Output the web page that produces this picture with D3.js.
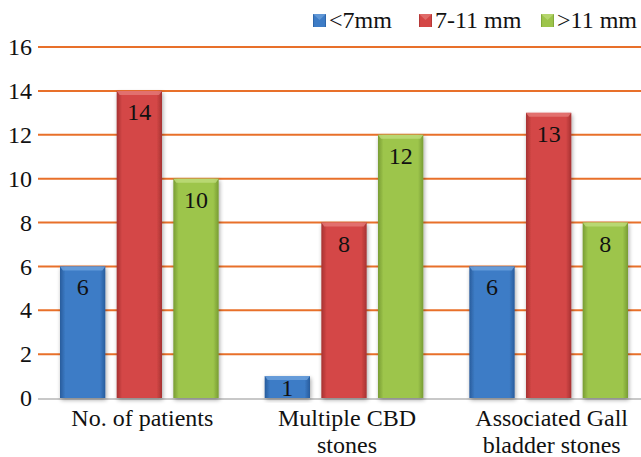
<!DOCTYPE html>
<html><head><meta charset="utf-8">
<script src="https://cdn.jsdelivr.net/npm/d3@7"></script>
<style>body{margin:0;background:#fff}svg{display:block}</style>
</head><body>
<script>
const categories = [["No. of patients"], ["Multiple CBD", "stones"], ["Associated Gall", "bladder stones"]];
const seriesNames = ["<7mm", "7-11 mm", ">11 mm"];
const lt7 = [6, 1, 6];
const mid = [14, 8, 13];
const gt11 = [10, 12, 8];
const yTicks = [0, 2, 4, 6, 8, 10, 12, 14, 16];

const FONT = "'Liberation Serif'";
const FS = 24;
const W = 641, H = 457;
const svg = d3.select("body").append("svg").attr("width", W).attr("height", H);
const defs = svg.append("defs");
const colors = [
  {edge:"#285c9c", mid:"#3d7cc6", top:"#6fa3dd"},
  {edge:"#a63232", mid:"#d44746", top:"#e57a78"},
  {edge:"#789c34", mid:"#9dc54b", top:"#bfdc7c"}
];
colors.forEach((c,i)=>{
  const g = defs.append("linearGradient").attr("id","g"+i).attr("x1","0").attr("x2","1").attr("y1","0").attr("y2","0");
  g.append("stop").attr("offset","0").attr("stop-color",c.edge);
  g.append("stop").attr("offset","0.12").attr("stop-color",c.mid);
  g.append("stop").attr("offset","0.88").attr("stop-color",c.mid);
  g.append("stop").attr("offset","1").attr("stop-color",c.edge);
});
const f = defs.append("filter").attr("id","sh").attr("x","-20%").attr("y","-20%").attr("width","140%").attr("height","140%");
f.append("feGaussianBlur").attr("in","SourceAlpha").attr("stdDeviation","2");
f.append("feOffset").attr("dx","1").attr("dy","2").attr("result","b");
f.append("feComponentTransfer").append("feFuncA").attr("type","linear").attr("slope","0.35");
const fm = f.append("feMerge"); fm.append("feMergeNode"); fm.append("feMergeNode").attr("in","SourceGraphic");

const y = d3.scaleLinear().domain([0,16]).range([398,47]);
const x0 = d3.scaleBand().domain(d3.range(categories.length)).range([37, 651]).padding(0);
const x1 = d3.scaleBand().domain(d3.range(3)).range([23, x0.bandwidth()-23]).paddingInner(0.2);

function txt(sel){ return sel.style("font-family", FONT).attr("fill","#111").attr("font-size",FS); }

// gridlines
svg.append("g").selectAll("line").data(yTicks.filter(t=>t>0)).join("line")
  .attr("x1",38).attr("x2",W).attr("y1",d=>y(d)).attr("y2",d=>y(d))
  .attr("stroke","#e8702a").attr("stroke-width",2);
// baseline
svg.append("line").attr("x1",38).attr("x2",W).attr("y1",y(0)+1).attr("y2",y(0)+1).attr("stroke","#c8c8c8").attr("stroke-width",2);

// y axis labels
const ya = svg.append("g").attr("transform","translate(38,0)").call(d3.axisLeft(y).tickValues(yTicks).tickSize(0).tickPadding(6));
ya.attr("font-family", null).attr("font-size", null);
ya.select(".domain").remove();
txt(ya.selectAll("text"));

const data = [lt7, mid, gt11];
const gCat = svg.append("g").selectAll("g").data(categories).join("g").attr("transform",(d,i)=>`translate(${x0(i)},0)`);
gCat.each(function(cat, ci){
  const g = d3.select(this);
  data.forEach((s, si)=>{
    const v = s[ci], bx = x1(si), bw = x1.bandwidth(), top = y(v), h = y(0)-y(v);
    const bg = g.append("g").attr("filter","url(#sh)");
    bg.append("rect").attr("x",bx).attr("y",top).attr("width",bw).attr("height",h).attr("fill",`url(#g${si})`);
    bg.append("path").attr("d",`M${bx},${top}L${bx+bw},${top}L${bx+bw-3},${top+4}L${bx+3},${top+4}Z`).attr("fill",colors[si].top).attr("opacity",0.8);
    txt(g.append("text").attr("x",bx+bw/2).attr("y",Math.min(top+29, y(0)-2)).attr("text-anchor","middle").text(v));
  });
  const lab = txt(g.append("text").attr("text-anchor","middle"));
  const tsp = lab.selectAll("tspan").data(cat).join("tspan").attr("y",(d,i)=>426+i*27).text(d=>d);
  // center slightly right of the group, but keep inside the chart's right edge
  let cx = x0.bandwidth()/2 + 3;
  const maxW = d3.max(tsp.nodes(), n=>n.getComputedTextLength());
  const absRight = x0(ci) + cx + maxW/2;
  if (absRight > 638) cx -= (absRight - 638);
  tsp.attr("x", cx);
});

// legend
const legX = [313, 419, 541];
const lg = svg.append("g");
seriesNames.forEach((n,i)=>{
  lg.append("rect").attr("x",legX[i]).attr("y",14).attr("width",13).attr("height",13).attr("fill",`url(#g${i})`);
  lg.append("path").attr("d",`M${legX[i]},14L${legX[i]+13},14L${legX[i]+6.5},20Z`).attr("fill",colors[i].top).attr("opacity",0.7);
  txt(lg.append("text").attr("x",legX[i]+16).attr("y",28).text(n));
});
</script>
</body></html>
